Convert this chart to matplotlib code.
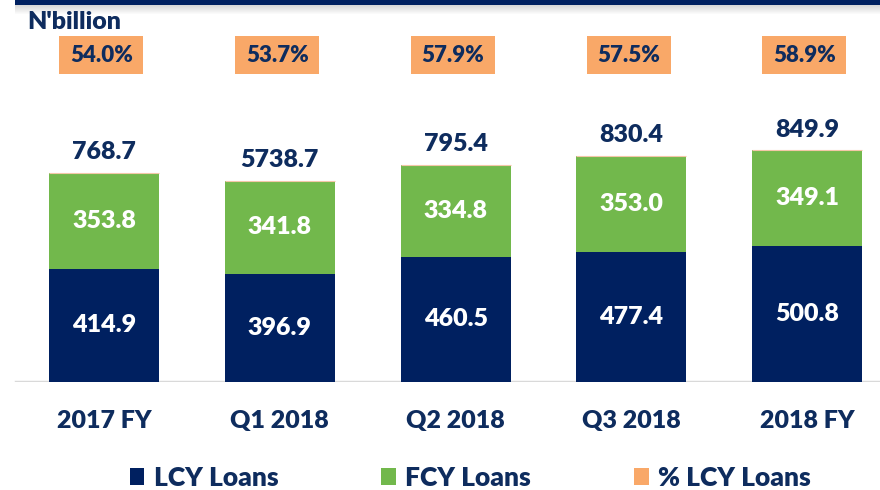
import matplotlib
matplotlib.use('Agg')
import matplotlib.pyplot as plt
from matplotlib.patches import Rectangle, Patch
from matplotlib.transforms import blended_transform_factory

# Loan book split by currency, N'billion
periods = ['2017 FY', 'Q1 2018', 'Q2 2018', 'Q3 2018', '2018 FY']
lcy_loans = [414.9, 396.9, 460.5, 477.4, 500.8]
fcy_loans = [353.8, 341.8, 334.8, 353.0, 349.1]
total_labels = ['768.7', '5738.7', '795.4', '830.4', '849.9']
lcy_share = ['54.0%', '53.7%', '57.9%', '57.5%', '58.9%']

NAVY = '#002060'
GREEN = '#72B84C'
ORANGE = '#F9A868'
TEXT = '#0E2C5E'
WEIGHT = 'heavy'

plt.rcParams['font.family'] = ['Lato', 'DejaVu Sans']
plt.rcParams['font.weight'] = WEIGHT

fig = plt.figure(figsize=(8.8, 4.9), dpi=100)
W, H = 880, 490
# axes: baseline 382 px from the top, reaching to the top edge
ax = fig.add_axes([0, (H - 382) / H, 1, 382 / H])

x = list(range(len(periods)))
ax.set_xlim(-0.592, 4.415)
ax.set_ylim(0, 1402)

bar_w = 0.626
lcy_bars = ax.bar(x, lcy_loans, width=bar_w, color=NAVY, label='LCY Loans', zorder=3)
fcy_bars = ax.bar(x, fcy_loans, width=bar_w, bottom=lcy_loans, color=GREEN,
                  label='FCY Loans', zorder=3)
# thin orange rim on top of each stack
tops = [a + b for a, b in zip(lcy_loans, fcy_loans)]
ax.hlines(tops, [i - bar_w / 2 for i in x], [i + bar_w / 2 for i in x],
          color='#F4C7A8', linewidth=0.8, zorder=4)

# values inside the segments
for i in x:
    ax.text(i, lcy_loans[i] / 2, f'{lcy_loans[i]:.1f}', ha='center', va='center',
            color='white', fontsize=18, fontweight=WEIGHT, zorder=4)
    ax.text(i, lcy_loans[i] + fcy_loans[i] / 2, f'{fcy_loans[i]:.1f}', ha='center',
            va='center', color='white', fontsize=18, fontweight=WEIGHT, zorder=4)
    ax.annotate(total_labels[i], (i, tops[i]), xytext=(0, 15),
                textcoords='offset points', ha='center', va='center',
                color=TEXT, fontsize=18, fontweight=WEIGHT)

# % LCY boxes along the top
trans = blended_transform_factory(ax.transData, ax.transAxes)
box_w = 0.478
for i in x:
    ax.add_patch(Rectangle((i - box_w / 2 - 0.015, 0.806), box_w, 0.099,
                           transform=trans, facecolor=ORANGE, edgecolor='none',
                           clip_on=False, zorder=3))
    ax.text(i - 0.015, 0.8555, lcy_share[i], transform=trans, ha='center', va='center',
            color=TEXT, fontsize=16, fontweight=WEIGHT, zorder=4)

# baseline
ax.axhline(0, xmin=16 / W, xmax=1, color='#D9D9D9', linewidth=2.5, zorder=2)

for s in ax.spines.values():
    s.set_visible(False)
ax.set_yticks([])
ax.set_xticks(x)
ax.set_xticklabels(periods, fontsize=18, fontweight=WEIGHT, color=TEXT)
ax.tick_params(axis='x', length=0, pad=20)

# header band with a soft shadow
for k in range(10):
    fig.patches.append(Rectangle((15 / W, (H - 5 - k) / H), 1, 1 / H,
                                 transform=fig.transFigure, facecolor='#808080',
                                 alpha=0.35 * (1 - k / 10), edgecolor='none'))
fig.patches.append(Rectangle((15 / W, (H - 5) / H), 1, 5 / H, transform=fig.transFigure,
                             facecolor=NAVY, edgecolor='none'))

fig.text(27 / W, (H - 22) / H, "N'billion", ha='left', va='center', color=TEXT,
         fontsize=18, fontweight=WEIGHT)

handles = [lcy_bars, fcy_bars, Patch(facecolor=ORANGE, label='% LCY Loans')]
fig.legend(handles=handles, labels=['LCY Loans', 'FCY Loans', '% LCY Loans'],
           loc='center', bbox_to_anchor=(470 / W, (H - 478) / H), ncol=3, frameon=False,
           prop={'size': 19, 'weight': WEIGHT}, labelcolor=TEXT,
           handlelength=0.56, handleheight=0.6, handletextpad=0.35, columnspacing=3.9)

fig.savefig('out.png', dpi=100)
